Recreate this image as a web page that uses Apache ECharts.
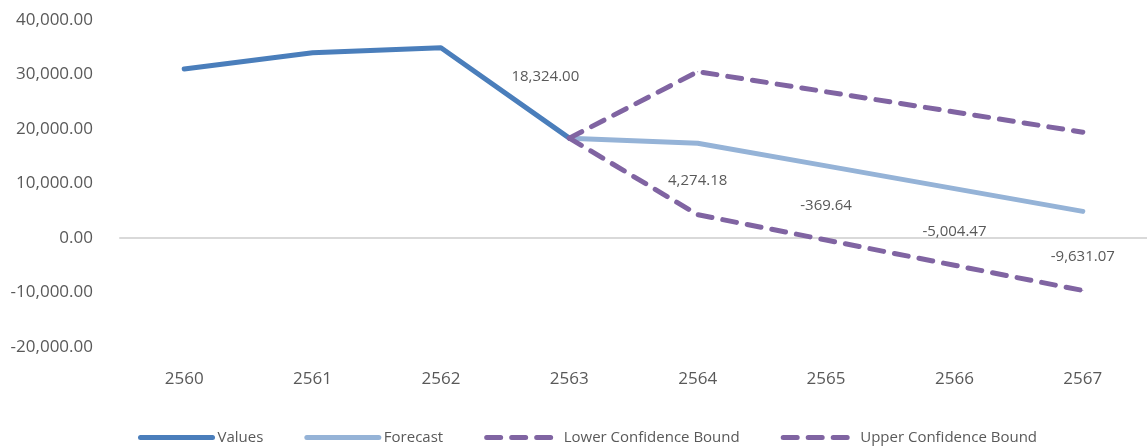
<!DOCTYPE html>
<html>
<head>
<meta charset="utf-8">
<title>Forecast</title>
<script src="https://cdn.jsdelivr.net/npm/echarts@6/dist/echarts.min.js"></script>
<style>
  html, body { margin: 0; padding: 0; background: #fff; }
  #chart { width: 1147px; height: 448px; }
</style>
</head>
<body>
<div id="chart"></div>
<script>
// ข้อมูลกราฟ
var years = ['2560', '2561', '2562', '2563', '2564', '2565', '2566', '2567'];
var values = [31000, 34000, 34900, 18324, null, null, null, null];
var forecast = [null, null, null, 18324, 17400, 13230, 9060, 4890];
var lowerBound = [null, null, null, 18324, 4274.18, -369.64, -5004.47, -9631.07];
var upperBound = [null, null, null, 18324, 30526, 26830, 23124, 19411];

var textColor = '#595959';
var fontName = 'Open Sans';

function fmt(v) {
    return Number(v).toLocaleString('en-US', { minimumFractionDigits: 2, maximumFractionDigits: 2 });
}

var chart = echarts.init(document.getElementById('chart'));

// ป้ายกำกับของเส้นล่าง (ยกเว้นจุดเริ่ม)
var lowerData = lowerBound.map(function (v, i) {
    if (v === null || i === 3) return v;
    return { value: v, label: { show: true } };
});

var valuesData = values.map(function (v, i) {
    if (i !== 3) return v;
    return { value: v, label: { show: true, offset: [-24, -27] } };
});

var labelStyle = {
    show: false,
    position: 'top',
    distance: 26,
    color: textColor,
    fontFamily: fontName,
    fontSize: 15,
    formatter: function (p) { return fmt(p.value); }
};

function lineSeries(name, data, color, dashed, z) {
    return {
        name: name,
        type: 'line',
        data: data,
        symbol: 'circle',
        symbolSize: 1,
        showSymbol: true,
        itemStyle: { color: color },
        lineStyle: { color: color, width: 5, type: dashed ? [14, 11] : 'solid', cap: 'round', join: 'round' },
        label: labelStyle,
        z: z
    };
}

var option = {
    animation: false,
    grid: { left: 120, right: -5, top: 20, bottom: 101 },
    legend: {
        left: 133,
        top: 425,
        itemWidth: 72,
        itemHeight: 14,
        itemGap: 41,
        itemStyle: { opacity: 0 },
        lineStyle: { width: 5 },
        textStyle: { color: textColor, fontFamily: fontName, fontSize: 15 },
        data: ['Values', 'Forecast', 'Lower Confidence Bound', 'Upper Confidence Bound']
    },
    xAxis: [
        {
            type: 'category',
            data: years,
            boundaryGap: true,
            position: 'bottom',
            axisLine: { show: false, onZero: false },
            axisTick: { show: false },
            axisLabel: { color: textColor, fontFamily: fontName, fontSize: 17, margin: 24 }
        },
        {
            type: 'category',
            data: years,
            boundaryGap: true,
            position: 'bottom',
            axisLine: { show: true, onZero: true, lineStyle: { color: '#d9d9d9', width: 2 } },
            axisTick: { show: false },
            axisLabel: { show: false }
        }
    ],
    yAxis: {
        type: 'value',
        min: -20000,
        max: 40000,
        interval: 10000,
        axisLine: { show: false },
        axisTick: { show: false },
        splitLine: { show: false },
        axisLabel: {
            color: textColor,
            fontFamily: fontName,
            fontSize: 17,
            margin: 27,
            formatter: fmt
        }
    },
    series: [
        lineSeries('Values', valuesData, '#4a7ebb', false, 3),
        lineSeries('Forecast', forecast, '#95b3d7', false, 2),
        lineSeries('Lower Confidence Bound', lowerData, '#8064a2', true, 4),
        lineSeries('Upper Confidence Bound', upperBound, '#8064a2', true, 4)
    ]
};

chart.setOption(option);
</script>
</body>
</html>
